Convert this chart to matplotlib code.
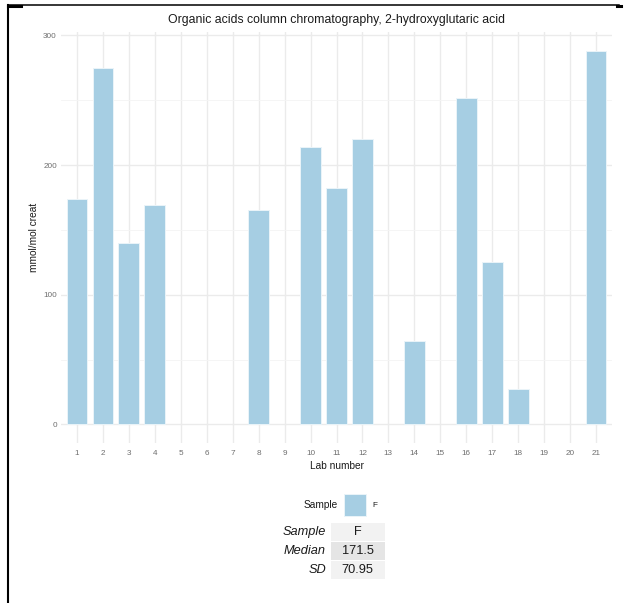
import numpy as np
import matplotlib
matplotlib.use("Agg")
import matplotlib.pyplot as plt
from matplotlib.patches import Rectangle
from matplotlib.lines import Line2D

plt.rcParams['font.family'] = ['Liberation Sans', 'DejaVu Sans']

# ---------- data ----------
labs = [1, 2, 3, 4, 8, 10, 11, 12, 14, 16, 17, 18, 21]
vals = [174, 275, 140, 169, 165, 214, 182, 220, 64, 252, 125, 27, 288]
all_labs = list(range(1, 22))
sample = "F"
stat_names = ["Sample", "Median", "SD"]
stat_vals = ["F", "171.5", "70.95"]

title = "Organic acids column chromatography, 2-hydroxyglutaric acid"
bar_col = "#A6CEE3"

W, H = 624, 603
fig = plt.figure(figsize=(W / 100, H / 100), dpi=100)

def fx(px):
    return px / W

def fy(py):
    return 1 - py / H

# panel in pixel coords
left, right, top, bottom = 61.4, 611.6, 32.2, 443.1
ax = fig.add_axes([fx(left), fy(bottom), fx(right - left), (bottom - top) / H])

bars = ax.bar(labs, vals, width=0.8, color=bar_col, edgecolor="#EAF4F9",
              linewidth=0.7, zorder=3)

ymax = max(vals)
pad = 0.05 * ymax
ax.set_ylim(-pad, ymax + pad)
ax.set_xlim(0.4, 21.6)
ax.set_yticks([0, 100, 200, 300])
ax.set_yticks([50, 150, 250], minor=True)
ax.set_xticks(all_labs)
ax.set_xticklabels([str(i) for i in all_labs])
ax.grid(True, which="major", color="#EBEBEB", lw=1.0, zorder=0)
ax.grid(True, which="minor", axis="y", color="#F4F4F4", lw=0.6, zorder=0)
for s in ax.spines.values():
    s.set_visible(False)
ax.tick_params(which="both", length=0, labelsize=5.9, colors="#6E6E6E")
ax.tick_params(axis="y", pad=3.2)
ax.tick_params(axis="x", pad=4.8)

# axis titles and main title
fig.text(fx(336.5), fy(22.5), title, ha="center", va="baseline",
         fontsize=8.8, color="#1A1A1A")
fig.text(fx(336.5), fy(466), "Lab number", ha="center", va="center",
         fontsize=7.3, color="#1A1A1A")
fig.text(fx(34), fy(237.6), "mmol/mol creat", ha="center", va="center",
         rotation=90, fontsize=7.3, color="#1A1A1A")

# legend (title on the left, ggplot style)
fig.text(fx(337.5), fy(505.5), "Sample", ha="right", va="center",
         fontsize=7.3, color="#1A1A1A")
fig.patches.append(Rectangle((fx(344.4), fy(515.6)), fx(21.2), 21.6 / H,
                             transform=fig.transFigure, facecolor=bar_col,
                             edgecolor="#EAF4F9", lw=0.7))
fig.text(fx(372), fy(505.5), sample, ha="left", va="center",
         fontsize=5.9, color="#1A1A1A")

# summary table
row_fill = ["#F2F2F2", "#E5E5E5", "#F2F2F2"]
row_top, row_h = 522.8, 18.8
for i, (name, v) in enumerate(zip(stat_names, stat_vals)):
    y0 = row_top + i * row_h
    fig.patches.append(Rectangle((fx(331), fy(y0 + row_h - 0.6)), fx(53.5),
                                 (row_h - 1.2) / H, transform=fig.transFigure,
                                 facecolor=row_fill[i], edgecolor="none"))
    fig.text(fx(326), fy(y0 + row_h / 2), name, ha="right", va="center",
             fontsize=9.2, style="italic", color="#1A1A1A")
    fig.text(fx(357.7), fy(y0 + row_h / 2), v, ha="center", va="center",
             fontsize=9.2, color="#1A1A1A")

# frame lines around the exported image
fig.add_artist(Line2D([fx(8), fx(8)], [fy(5), fy(603)], color="black",
                      lw=1.5, transform=fig.transFigure))
fig.add_artist(Line2D([fx(8), fx(619)], [fy(5), fy(5)], color="black",
                      lw=1.1, transform=fig.transFigure))
fig.add_artist(Line2D([fx(8), fx(21)], [fy(5.5), fy(5.5)], color="black",
                      lw=2.2, transform=fig.transFigure))
fig.add_artist(Line2D([fx(617), fx(621)], [fy(5.5), fy(5.5)], color="black",
                      lw=2.2, transform=fig.transFigure))

fig.savefig("out.png", dpi=100)
